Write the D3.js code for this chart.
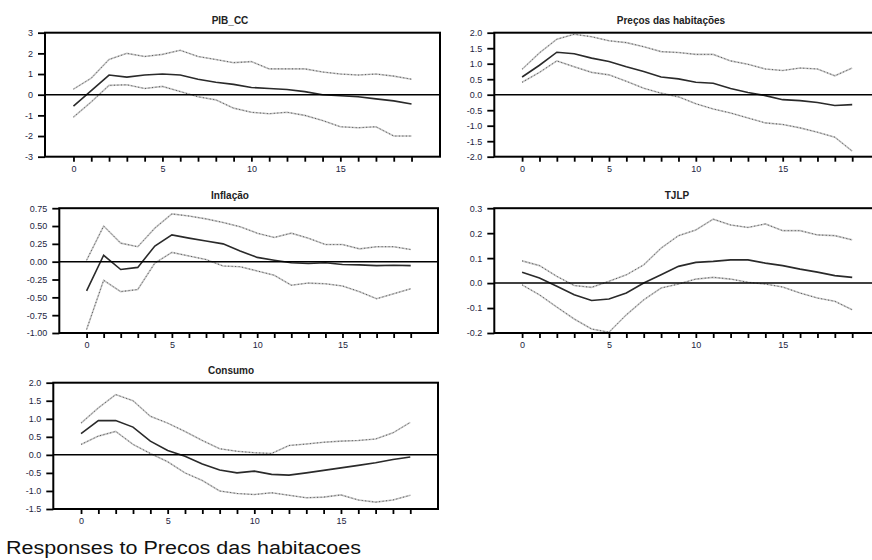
<!DOCTYPE html>
<html>
<head>
<meta charset="utf-8">
<script src="https://cdn.jsdelivr.net/npm/d3@7"></script>
<style>
  html, body { margin: 0; padding: 0; background: #fff; }
  svg { display: block; }
</style>
</head>
<body>
<svg id="chart" width="872" height="560"></svg>
<script>
// ---------------- DATA ----------------
const periods = d3.range(0, 20);

const titles = ["PIB_CC", "Preços das habitações", "Inflação", "TJLP", "Consumo"];
const footer = "Responses to Precos das habitacoes";

const pibResp  = [-0.55, 0.2, 0.95, 0.85, 0.95, 1.0, 0.95, 0.75, 0.6, 0.5, 0.35, 0.3, 0.25, 0.15, 0.0, -0.05, -0.1, -0.2, -0.3, -0.45];
const pibUpper = [0.27, 0.8, 1.7, 2.0, 1.85, 1.95, 2.15, 1.85, 1.7, 1.55, 1.6, 1.25, 1.25, 1.25, 1.1, 1.0, 0.95, 1.0, 0.9, 0.75];
const pibLower = [-1.08, -0.35, 0.45, 0.48, 0.3, 0.4, 0.15, -0.1, -0.25, -0.65, -0.85, -0.92, -0.85, -1.0, -1.25, -1.55, -1.6, -1.55, -2.0, -2.0];

const precoResp  = [0.57, 0.95, 1.37, 1.32, 1.18, 1.07, 0.9, 0.75, 0.57, 0.51, 0.4, 0.37, 0.2, 0.07, -0.03, -0.16, -0.19, -0.25, -0.35, -0.32];
const precoUpper = [0.82, 1.35, 1.79, 1.95, 1.87, 1.74, 1.68, 1.55, 1.39, 1.36, 1.3, 1.3, 1.09, 0.98, 0.83, 0.78, 0.86, 0.83, 0.61, 0.86];
const precoLower = [0.4, 0.72, 1.09, 0.9, 0.72, 0.64, 0.43, 0.21, 0.05, -0.07, -0.29, -0.46, -0.59, -0.75, -0.91, -0.96, -1.07, -1.21, -1.37, -1.82];

const inflResp  = [-0.41, 0.09, -0.11, -0.08, 0.22, 0.375, 0.33, 0.29, 0.25, 0.15, 0.06, 0.02, -0.015, -0.025, -0.015, -0.04, -0.045, -0.055, -0.05, -0.055];
const inflUpper = [0.02, 0.5, 0.26, 0.21, 0.47, 0.67, 0.64, 0.6, 0.55, 0.49, 0.4, 0.34, 0.4, 0.33, 0.24, 0.24, 0.18, 0.21, 0.21, 0.17];
const inflLower = [-0.95, -0.26, -0.42, -0.39, -0.02, 0.13, 0.08, 0.03, -0.06, -0.07, -0.13, -0.19, -0.33, -0.3, -0.31, -0.34, -0.42, -0.52, -0.45, -0.38];

const tjlpResp  = [0.043, 0.02, -0.013, -0.047, -0.07, -0.064, -0.04, 0.0, 0.033, 0.067, 0.083, 0.087, 0.093, 0.093, 0.08, 0.07, 0.056, 0.044, 0.03, 0.023];
const tjlpUpper = [0.089, 0.07, 0.027, -0.01, -0.017, 0.007, 0.033, 0.073, 0.14, 0.19, 0.213, 0.256, 0.233, 0.223, 0.237, 0.21, 0.21, 0.193, 0.19, 0.173];
const tjlpLower = [-0.007, -0.047, -0.096, -0.144, -0.184, -0.197, -0.127, -0.067, -0.02, -0.004, 0.016, 0.023, 0.016, 0.003, -0.004, -0.016, -0.04, -0.06, -0.073, -0.107];

const consResp  = [0.59, 0.95, 0.95, 0.77, 0.38, 0.12, -0.04, -0.25, -0.42, -0.5, -0.45, -0.54, -0.56, -0.5, -0.43, -0.36, -0.29, -0.22, -0.13, -0.06];
const consUpper = [0.88, 1.3, 1.67, 1.5, 1.07, 0.88, 0.65, 0.4, 0.17, 0.1, 0.06, 0.04, 0.26, 0.3, 0.35, 0.38, 0.4, 0.44, 0.61, 0.9];
const consLower = [0.29, 0.52, 0.65, 0.29, 0.04, -0.19, -0.5, -0.71, -1.0, -1.07, -1.1, -1.05, -1.12, -1.19, -1.17, -1.11, -1.25, -1.31, -1.25, -1.12];

const xTickLabels = [0, 5, 10, 15];
const pibTicks   = [-3, -2, -1, 0, 1, 2, 3];
const precoTicks = [-2.0, -1.5, -1.0, -0.5, 0.0, 0.5, 1.0, 1.5, 2.0];
const inflTicks  = [-1.00, -0.75, -0.50, -0.25, 0.00, 0.25, 0.50, 0.75];
const tjlpTicks  = [-0.2, -0.1, 0.0, 0.1, 0.2, 0.3];
const consTicks  = [-1.5, -1.0, -0.5, 0.0, 0.5, 1.0, 1.5, 2.0];

// ---------------- LAYOUT ----------------
const panels = [
  { title: titles[0], resp: pibResp,   up: pibUpper,   lo: pibLower,   ticks: pibTicks,   fmt: "d",
    x0: 45,    x1: 440, y0: 32.7, y1: 156.7, tx: 230 },
  { title: titles[1], resp: precoResp, up: precoUpper, lo: precoLower, ticks: precoTicks, fmt: ".1f",
    x0: 494.3, x1: 880, y0: 32.7, y1: 156.7, tx: 671 },
  { title: titles[2], resp: inflResp,  up: inflUpper,  lo: inflLower,  ticks: inflTicks,  fmt: ".2f",
    x0: 59.3,  x1: 438, y0: 208.2, y1: 333, tx: 230 },
  { title: titles[3], resp: tjlpResp,  up: tjlpUpper,  lo: tjlpLower,  ticks: tjlpTicks,  fmt: ".1f",
    x0: 494.3, x1: 880, y0: 208.2, y1: 333, tx: 677 },
  { title: titles[4], resp: consResp,  up: consUpper,  lo: consLower,  ticks: consTicks,  fmt: ".1f",
    x0: 53.3,  x1: 438, y0: 382.7, y1: 509, tx: 231 }
];

const svg = d3.select("#chart");
const tickFont = "'Liberation Sans', Arial, sans-serif";

panels.forEach(p => {
  const g = svg.append("g");
  const x = d3.scaleLinear().domain([-1.6, 20.6]).range([p.x0, p.x1]);
  const ext = d3.extent(p.ticks);
  const y = d3.scaleLinear().domain(ext).range([p.y1, p.y0]);
  const f = d3.format(p.fmt);
  const fmt = v => f(v).replace("\u2212", "-");

  const line = arr => d3.line().x((d, i) => x(periods[i])).y(d => y(d))(arr);

  // confidence bands: light continuous line with dotted overlay
  [p.up, p.lo].forEach(arr => {
    g.append("path").attr("d", line(arr)).attr("fill", "none")
      .attr("stroke", "#c4c4c4").attr("stroke-width", 1.6);
    g.append("path").attr("d", line(arr)).attr("fill", "none")
      .attr("stroke", "#555").attr("stroke-width", 1).attr("stroke-dasharray", "1,2.5");
  });
  // response line
  g.append("path").attr("d", line(p.resp)).attr("fill", "none")
    .attr("stroke", "#2a2a2a").attr("stroke-width", 1.6);

  // zero line
  g.append("line").attr("x1", p.x0).attr("x2", p.x1).attr("y1", y(0)).attr("y2", y(0))
    .attr("stroke", "#000").attr("stroke-width", 1.5);

  // frame
  g.append("rect").attr("x", p.x0).attr("y", p.y0)
    .attr("width", p.x1 - p.x0).attr("height", p.y1 - p.y0)
    .attr("fill", "none").attr("stroke", "#000").attr("stroke-width", 2);

  // y axis
  const yAxis = d3.axisLeft(y).tickValues(p.ticks).tickFormat(fmt).tickSize(7).tickPadding(5);
  const ya = g.append("g").attr("transform", `translate(${p.x0},0)`).call(yAxis);
  ya.select(".domain").remove();
  ya.selectAll(".tick line").attr("stroke", "#000").attr("stroke-width", 1.8);
  ya.selectAll(".tick text").attr("font-family", tickFont).attr("font-size", 9)
    .attr("fill", "#1c2440");

  // x axis: ticks at every period, labels at 0,5,10,15
  const xAxis = d3.axisBottom(x).tickValues(periods)
    .tickFormat(d => xTickLabels.includes(d) ? String(d) : "").tickSize(5).tickPadding(4);
  const xa = g.append("g").attr("transform", `translate(0,${p.y1})`).call(xAxis);
  xa.select(".domain").remove();
  xa.selectAll(".tick line").attr("stroke", "#000").attr("stroke-width", 1.8);
  xa.selectAll(".tick text").attr("font-family", tickFont).attr("font-size", 9)
    .attr("fill", "#1c2440");

  // title
  g.append("text").attr("x", p.tx).attr("y", p.y0 - 9).attr("text-anchor", "middle")
    .attr("font-family", tickFont).attr("font-weight", "bold").attr("font-size", 10)
    .attr("fill", "#222").text(p.title);
});

svg.append("text").attr("x", 6).attr("y", 554)
  .attr("font-family", tickFont).attr("font-size", 18)
  .attr("textLength", 355).attr("lengthAdjust", "spacingAndGlyphs")
  .attr("fill", "#111").text(footer);
</script>
</body>
</html>
